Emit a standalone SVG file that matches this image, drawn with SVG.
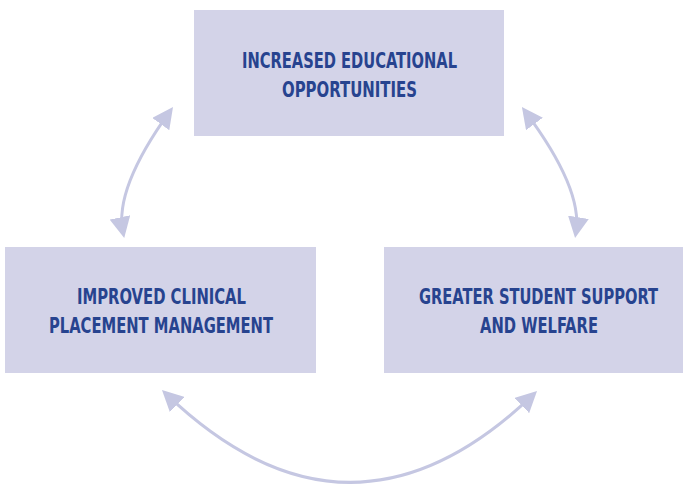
<svg xmlns="http://www.w3.org/2000/svg" width="684" height="484" viewBox="0 0 684 484">
  <style>
    .box { fill: #d3d3e8; }
    .label { font-family: "DejaVu Sans Condensed", "Liberation Sans Narrow", "Liberation Sans", Arial, sans-serif; font-stretch: condensed; font-weight: bold; font-size: 20.5px; fill: #27438f; text-anchor: middle; }
    .link { fill: none; stroke: #c5c7e2; stroke-width: 3; }
  </style>
  <defs>
    <marker id="head" viewBox="0 0 21 21" refX="15" refY="10.5" markerWidth="21" markerHeight="21" markerUnits="userSpaceOnUse" orient="auto-start-reverse">
      <path d="M0,0 L21,10.5 L0,21 z" fill="#c5c7e2"/>
    </marker>
  </defs>

  <g id="connectors">
    <path class="link" d="M169.5,111.9 Q114,189 123,232.1" marker-start="url(#head)" marker-end="url(#head)"/>
    <path class="link" d="M525.5,111.9 Q583,189 576,232.1" marker-start="url(#head)" marker-end="url(#head)"/>
    <path class="link" d="M166.3,394.2 Q350,570 532.7,395.2" marker-start="url(#head)" marker-end="url(#head)"/>
  </g>

  <g id="educational">
    <rect class="box" x="194" y="10" width="310" height="126"/>
    <text class="label" x="349.5" y="67.5" textLength="215" lengthAdjust="spacingAndGlyphs">INCREASED EDUCATIONAL</text>
    <text class="label" x="349.5" y="96.5" textLength="135" lengthAdjust="spacingAndGlyphs">OPPORTUNITIES</text>
  </g>

  <g id="placement">
    <rect class="box" x="5" y="247" width="311" height="126"/>
    <text class="label" x="161.5" y="304" textLength="169" lengthAdjust="spacingAndGlyphs">IMPROVED CLINICAL</text>
    <text class="label" x="161" y="332.5" textLength="224" lengthAdjust="spacingAndGlyphs">PLACEMENT MANAGEMENT</text>
  </g>

  <g id="support">
    <rect class="box" x="384" y="247" width="299" height="126"/>
    <text class="label" x="538.5" y="304" textLength="239" lengthAdjust="spacingAndGlyphs">GREATER STUDENT SUPPORT</text>
    <text class="label" x="539" y="332.5" textLength="118" lengthAdjust="spacingAndGlyphs">AND WELFARE</text>
  </g>
</svg>
